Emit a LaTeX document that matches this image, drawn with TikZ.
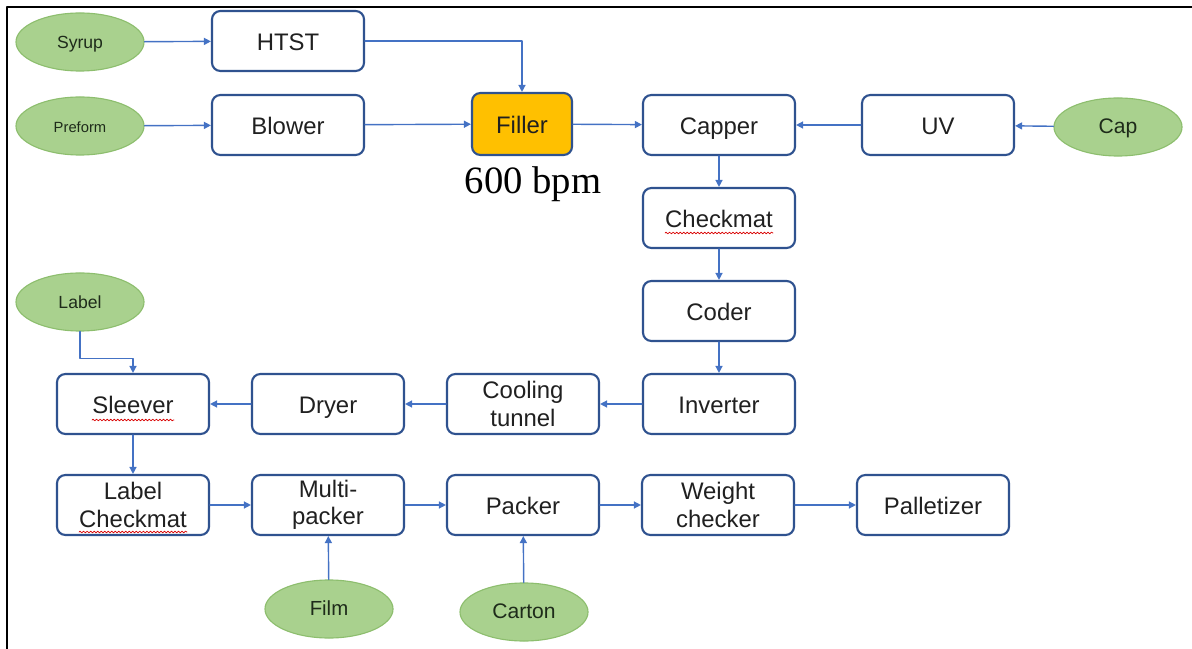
\documentclass[tikz,border=0pt]{standalone}
\usepackage{fontspec}
\setmainfont{Liberation Serif}
\setsansfont{Liberation Sans}
\usetikzlibrary{arrows.meta,shapes.geometric,decorations.pathmorphing}
\definecolor{flowblue}{HTML}{4472C4}
\definecolor{boxblue}{HTML}{2F528F}
\definecolor{feedgreen}{HTML}{A9D18E}
\definecolor{feededge}{HTML}{8DBE6E}
\definecolor{fillerorange}{HTML}{FFC000}
\definecolor{txtgray}{HTML}{202020}
\definecolor{feedtext}{HTML}{1E2B1A}

\begin{document}
\begin{tikzpicture}[x=0.025cm,y=-0.025cm,line cap=round,line join=round,
    >={Triangle[length=5pt,width=5pt]},
    unitpair/.style={draw=boxblue,line width=1.5pt,rounded corners=6pt,fill=white,
        minimum width=3.8cm,minimum height=1.5cm,inner sep=1pt,align=center,
        font=\sffamily\fontsize{17}{19.5}\selectfont,text=txtgray},
    unit/.style={unitpair,text height=14.5pt,text depth=1.5pt},
    feed/.style={ellipse,draw=feededge,line width=0.8pt,fill=feedgreen,
        minimum width=3.2cm,minimum height=1.45cm,inner sep=0pt,
        text height=11.5pt,text depth=1.8pt,
        font=\sffamily\fontsize{15}{17}\selectfont,text=feedtext},
    flow/.style={->,draw=flowblue,line width=1pt},
    squiggle/.style={draw=red!85!black,line width=0.5pt,decorate,
        decoration={snake,amplitude=0.6pt,segment length=2.5pt}}]
    \useasboundingbox (0,0) rectangle (1192,649);
    \draw [line width=1.4pt] (7,649) -- (7,7) -- (1192,7);

    \node[feed,font=\sffamily\fontsize{12.5}{15}\selectfont] (syrup) at (80,42) {Syrup};
    \node[unit] (htst) at (288,41) {HTST};
    \node[feed,font=\sffamily\fontsize{10.5}{13}\selectfont] (preform) at (80,126) {Preform};
    \node[unit] (blower) at (288,125) {Blower};
    \node[unit,fill=fillerorange,minimum width=2.5cm,minimum height=1.55cm] (filler) at (522,124) {Filler};
    \node[font=\fontsize{27.5}{31}\selectfont,text=black] (speed) at (533,184) {600 bpm};
    \node[unit] (capper) at (719,125) {Capper};
    \node[unit] (uv) at (938,125) {UV};
    \node[feed] (cap) at (1118,127) {Cap};

    \node[unit] (checkmat) at (719,218) {Checkmat};
    \node[unit] (coder) at (719,311) {Coder};
    \node[unit] (inverter) at (719,404) {Inverter};
    \node[unitpair] (cooling) at (523,404) {Cooling\\tunnel};
    \node[unit] (dryer) at (328,404) {Dryer};
    \node[unit] (sleever) at (133,404) {Sleever};
    \node[feed,font=\sffamily\fontsize{12.5}{15}\selectfont] (label) at (80,302) {Label};

    \node[unitpair] (labelcheck) at (133,505) {Label\\Checkmat};
    \node[unitpair] (multipacker) at (328,505) {Multi-\\packer};
    \node[unit] (packer) at (523,505) {Packer};
    \node[unitpair] (weight) at (718,505) {Weight\\checker};
    \node[unit] (pallet) at (933,505) {Palletizer};
    \node[feed,font=\sffamily\fontsize{14.5}{17}\selectfont] (film) at (329,609) {Film};
    \node[feed] (carton) at (524,612) {Carton};

    \draw[flow] (syrup) -- (htst);
    \draw[flow] (htst.east) -| (filler.north);
    \draw[flow] (preform) -- (blower);
    \draw[flow] (blower) -- (filler);
    \draw[flow] (filler) -- (capper);
    \draw[flow] (uv) -- (capper);
    \draw[flow] (cap) -- (uv);
    \draw[flow] (capper) -- (checkmat);
    \draw[flow] (checkmat) -- (coder);
    \draw[flow] (coder) -- (inverter);
    \draw[flow] (inverter) -- (cooling);
    \draw[flow] (cooling) -- (dryer);
    \draw[flow] (dryer) -- (sleever);
    \draw[flow] (label.south) -- ++(0,27) -| (sleever.north);
    \draw[flow] (sleever) -- (labelcheck);
    \draw[flow] (labelcheck) -- (multipacker);
    \draw[flow] (multipacker) -- (packer);
    \draw[flow] (packer) -- (weight);
    \draw[flow] (weight) -- (pallet);
    \draw[flow] (film) -- (multipacker);
    \draw[flow] (carton) -- (packer);

    \draw[squiggle] ([shift={(-54,15)}]checkmat.center) -- ++(108,0);
    \draw[squiggle] ([shift={(-41,16)}]sleever.center) -- ++(82,0);
    \draw[squiggle] ([shift={(-54,27)}]labelcheck.center) -- ++(108,0);
\end{tikzpicture}
\end{document}
